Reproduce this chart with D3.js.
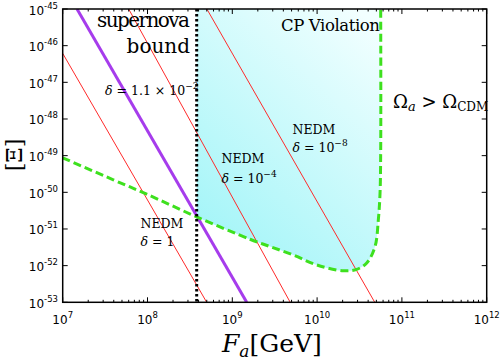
<!DOCTYPE html>
<html>
<head>
<meta charset="utf-8">
<script src="https://cdn.jsdelivr.net/npm/d3@7"></script>
<style>
  body { margin: 0; background: #fff; }
  svg { display: block; }
</style>
</head>
<body>
<svg id="chart"></svg>
<script>
// log10 exponents: [log10 Fa, log10 Xi]
const redLines = [
  [[7.0, -46.21], [8.698, -53]],   // NEDM delta = 1
  [[7.778, -45], [9.683, -53]],    // NEDM delta = 1e-4
  [[8.70, -45], [10.68, -53]]      // NEDM delta = 1e-8
];
const purpleLine = [[7.169, -45], [9.17, -53]];  // delta = 1.1e-2
const supernovaF = 8.58;

const relicCurve = [
  [7.0, -49.06], [7.597, -49.66], [7.991, -50.05], [8.58, -50.67],
  [9.209, -51.28], [9.445, -51.48], [9.719, -51.71], [9.995, -51.98],
  [10.309, -52.14], [10.467, -52.10], [10.585, -51.93], [10.683, -51.48],
  [10.722, -50.75], [10.742, -50.03], [10.75, -48.85], [10.75, -45]
];

const xTicks = [7, 8, 9, 10, 11, 12];
const yTicks = [-45, -46, -47, -48, -49, -50, -51, -52, -53];

const W = 500, H = 359;
const svg = d3.select('#chart').attr('width', W).attr('height', H);

const x = d3.scaleLog().domain([1e7, 1e12]).range([62.7, 486.7]);
const y = d3.scaleLog().domain([1e-53, 1e-45]).range([302.3, 9]);
const px = d => x(Math.pow(10, d[0]));
const py = d => y(Math.pow(10, d[1]));

const defs = svg.append('defs');
defs.append('clipPath').attr('id', 'plot')
  .append('rect')
  .attr('x', x.range()[0]).attr('y', y.range()[1])
  .attr('width', x.range()[1] - x.range()[0])
  .attr('height', y.range()[0] - y.range()[1]);

const grad = defs.append('linearGradient').attr('id', 'cp')
  .attr('gradientUnits', 'userSpaceOnUse')
  .attr('x1', 200).attr('y1', 230).attr('x2', 380).attr('y2', 30);
grad.append('stop').attr('offset', 0).attr('stop-color', '#a4f5f8');
grad.append('stop').attr('offset', 1).attr('stop-color', '#f2ffff');

const g = svg.append('g').attr('clip-path', 'url(#plot)');

const smooth = d3.line().x(px).y(py).curve(d3.curveCatmullRom);

// CP violation region: straight edge along the supernova bound, smooth edge along the relic curve
const edge = smooth(relicCurve.filter(d => d[0] >= supernovaF));
const corner = [x(Math.pow(10, supernovaF)), y(1e-45)];
g.append('path')
  .attr('d', `M${corner[0]},${corner[1]}L` + edge.slice(1) + 'Z')
  .attr('fill', 'url(#cp)');

const line = d3.line().x(px).y(py);

redLines.forEach(l => {
  g.append('path').datum(l).attr('d', line)
    .attr('fill', 'none').attr('stroke', '#ff2a2a').attr('stroke-width', 1);
});

g.append('path').datum(purpleLine).attr('d', line)
  .attr('fill', 'none').attr('stroke', '#a63cec').attr('stroke-width', 3);

g.append('path').datum(relicCurve)
  .attr('d', smooth)
  .attr('fill', 'none').attr('stroke', '#3ee01e').attr('stroke-width', 3)
  .attr('stroke-dasharray', '8,4');

g.append('line')
  .attr('x1', x(Math.pow(10, supernovaF))).attr('x2', x(Math.pow(10, supernovaF)))
  .attr('y1', y.range()[1]).attr('y2', y.range()[0])
  .attr('stroke', '#000').attr('stroke-width', 3).attr('stroke-dasharray', '2.6,2.4');

// ticks on all four sides
const ax = svg.append('g').attr('stroke', '#000');
const [x0, x1] = x.range(), [y0, y1] = [y.range()[0], y.range()[1]];
xTicks.forEach(e => {
  const xv = x(Math.pow(10, e));
  ax.append('line').attr('x1', xv).attr('x2', xv).attr('y1', y0).attr('y2', y0 - 5);
  ax.append('line').attr('x1', xv).attr('x2', xv).attr('y1', y1).attr('y2', y1 + 5);
  if (e < 12) {
    for (let m = 2; m < 10; m++) {
      const xm = x(m * Math.pow(10, e));
      ax.append('line').attr('x1', xm).attr('x2', xm).attr('y1', y0).attr('y2', y0 - 2.5);
      ax.append('line').attr('x1', xm).attr('x2', xm).attr('y1', y1).attr('y2', y1 + 2.5);
    }
  }
});
yTicks.forEach(e => {
  const yv = y(Math.pow(10, e));
  ax.append('line').attr('x1', x0).attr('x2', x0 + 5).attr('y1', yv).attr('y2', yv);
  ax.append('line').attr('x1', x1).attr('x2', x1 - 5).attr('y1', yv).attr('y2', yv);
});

svg.append('rect')
  .attr('x', x0).attr('y', y1).attr('width', x1 - x0).attr('height', y0 - y1)
  .attr('fill', 'none').attr('stroke', '#000').attr('stroke-width', 1.5);

// tick labels
const sans = '"DejaVu Sans", sans-serif';
xTicks.forEach(e => {
  const t = svg.append('text')
    .attr('x', x(Math.pow(10, e))).attr('y', 324)
    .attr('text-anchor', 'middle').attr('font-family', sans).attr('font-size', 12);
  t.append('tspan').text('10');
  t.append('tspan').attr('dy', -6).attr('font-size', 8.5).text(e);
});
yTicks.forEach(e => {
  const t = svg.append('text')
    .attr('x', 58).attr('y', y(Math.pow(10, e)) + 5.5)
    .attr('text-anchor', 'end').attr('font-family', sans).attr('font-size', 12);
  t.append('tspan').text('10');
  t.append('tspan').attr('dy', -6).attr('font-size', 8.5).text('-' + Math.abs(e));
});

// annotations
const serif = '"DejaVu Serif", serif';
function txt(xp, yp, size, anchor) {
  return svg.append('text').attr('x', xp).attr('y', yp)
    .attr('font-family', serif).attr('font-size', size)
    .attr('text-anchor', anchor || 'start').attr('fill', '#000');
}

txt(190, 27, 20, 'end').attr('textLength', 93).text('supernova');
txt(190, 52.5, 20, 'end').text('bound');
txt(281, 30.5, 16.5).attr('textLength', 99).text('CP Violation');

const om = txt(393, 107.5, 18);
om.append('tspan').text('Ω');
om.append('tspan').attr('dy', 3).attr('font-size', 13).attr('font-style', 'italic').text('a');
om.append('tspan').attr('dy', -3).text(' > Ω');
om.append('tspan').attr('dy', 3).attr('font-size', 12).text('CDM');

function delta(xp, yp, parts) {
  const t = txt(xp, yp, 12.5);
  t.append('tspan').attr('font-style', 'italic').text('δ');
  t.append('tspan').text(' = ' + parts[0]);
  if (parts[1]) t.append('tspan').attr('dy', -6).attr('font-size', 9).text(parts[1]);
}

delta(105, 95, ['1.1 × 10', '−2']);
txt(140.5, 227.5, 12.5).text('NEDM');
delta(140.5, 246, ['1']);
txt(221.5, 162.5, 12.5).text('NEDM');
delta(221.5, 183, ['10', '−4']);
txt(292.5, 133.5, 12.5).text('NEDM');
delta(292.5, 152, ['10', '−8']);

// axis titles
const xl = txt(222, 351.5, 25);
xl.append('tspan').attr('font-style', 'italic').text('F');
xl.append('tspan').attr('dy', 5).attr('font-size', 17).attr('font-style', 'italic').text('a');
xl.append('tspan').attr('dy', -5).text('[GeV]');

txt(0, 0, 22, 'middle').attr('transform', 'translate(22,155) rotate(-90)').text('[Ξ]');
</script>
</body>
</html>
